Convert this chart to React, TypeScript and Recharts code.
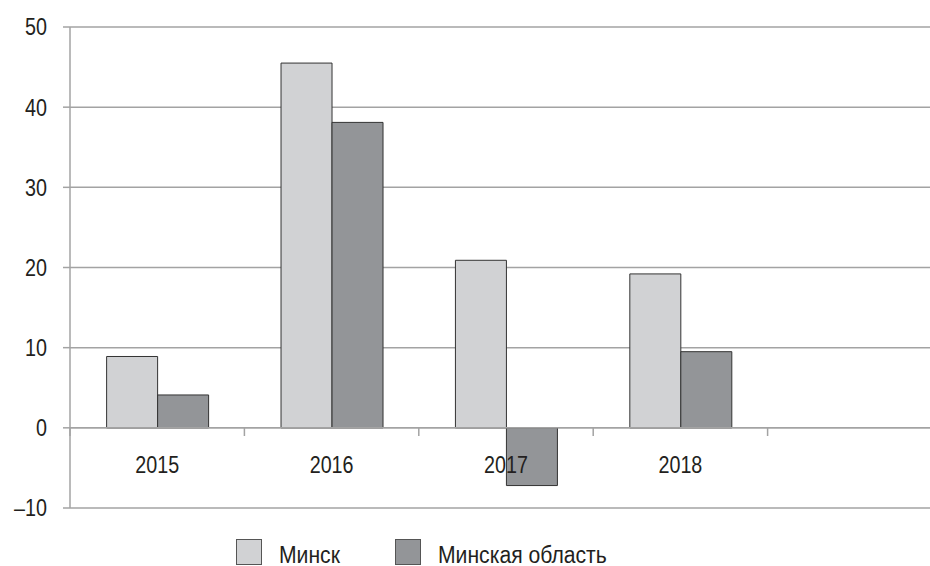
import { Bar, BarChart, CartesianGrid, Legend, ReferenceLine, XAxis, YAxis } from 'recharts';

const years = ['2015', '2016', '2017', '2018', ''];
const minsk = [8.9, 45.5, 20.9, 19.2, null];
const minskRegion = [4.1, 38.1, -7.2, 9.5, null];
const yTicks = [-10, 0, 10, 20, 30, 40, 50];

const LIGHT = '#d1d2d4';
const DARK = '#939598';
const GRID = '#a3a3a3';
const INK = '#231f20';
const FONT = '"Liberation Sans", Arial, sans-serif';
const FS = 23.5;
const SQUEEZE = 0.84; // the original uses a condensed face
const LEGEND_SQUEEZE = 0.9;

const data = years.map((year, i) => ({
  year,
  minsk: minsk[i],
  region: minskRegion[i],
}));

// label sits under the zero line, not at the plot bottom; boundary ticks too
function YearTick(props: any) {
  const { x, y, payload } = props;
  const half = payload.offset ?? 0;
  const zeroY = y - 80;
  return (
    <g>
      <line x1={x - half} x2={x - half} y1={zeroY} y2={zeroY + 8} stroke={GRID} strokeWidth={1.5} />
      <text
        transform={`translate(${x},${zeroY + 45}) scale(${SQUEEZE},1)`}
        textAnchor="middle"
        fontSize={FS}
        fill={INK}
        fontFamily={FONT}
      >
        {payload.value}
      </text>
    </g>
  );
}

function ValueTick(props: any) {
  const { x, y, payload } = props;
  const v = payload.value as number;
  const label = v < 0 ? '–' + Math.abs(v) : String(v);
  return (
    <text
      transform={`translate(${x},${y}) scale(${SQUEEZE},1)`}
      dy="0.36em"
      textAnchor="end"
      fontSize={FS}
      fill={INK}
      fontFamily={FONT}
    >
      {label}
    </text>
  );
}

function LegendBox({ payload }: any) {
  return (
    <div style={{ display: 'flex', fontFamily: FONT, fontSize: FS, color: INK }}>
      {(payload || []).map((p: any) => (
        <div key={p.value} style={{ display: 'flex', alignItems: 'flex-start', marginRight: 48 }}>
          <span
            style={{
              width: 26,
              height: 26,
              background: p.color,
              border: '1px solid #555',
              boxSizing: 'border-box',
              marginRight: 17,
              flexShrink: 0,
            }}
          />
          <span
            style={{
              lineHeight: '20px',
              paddingTop: 6,
              whiteSpace: 'nowrap',
              display: 'inline-block',
              transform: `scaleX(${LEGEND_SQUEEZE})`,
              transformOrigin: 'left center',
            }}
          >
            {p.value}
          </span>
        </div>
      ))}
    </div>
  );
}

export default function App() {
  return (
    <div style={{ position: 'fixed', left: 0, top: 0, width: 930, height: 566, overflow: 'hidden', background: '#fff' }}>
      <BarChart
        width={950}
        height={566}
        data={data}
        margin={{ top: 27, right: 8, left: 0, bottom: 0 }}
        barCategoryGap="21%"
        barGap={0}
      >
        <CartesianGrid vertical={false} stroke={GRID} strokeWidth={1.5} />
        <YAxis
          domain={[-10, 50]}
          ticks={yTicks}
          width={70}
          interval={0}
          axisLine={{ stroke: GRID, strokeWidth: 1.5 }}
          tickLine={{ stroke: GRID, strokeWidth: 1.5 }}
          tickSize={7}
          tickMargin={16}
          tick={<ValueTick />}
        />
        <XAxis
          dataKey="year"
          axisLine={false}
          tickLine={false}
          tickSize={0}
          tickMargin={0}
          height={1}
          interval={0}
          tick={<YearTick />}
        />
        <ReferenceLine y={0} stroke={GRID} strokeWidth={1.5} />
        <Legend
          content={<LegendBox />}
          verticalAlign="bottom"
          wrapperStyle={{ left: 236, width: 600, top: 539, height: 57 }}
        />
        <Bar dataKey="minsk" name="Минск" fill={LIGHT} stroke="#333" strokeWidth={1} isAnimationActive={false} />
        <Bar dataKey="region" name="Минская область" fill={DARK} stroke="#333" strokeWidth={1} isAnimationActive={false} />
      </BarChart>
    </div>
  );
}
